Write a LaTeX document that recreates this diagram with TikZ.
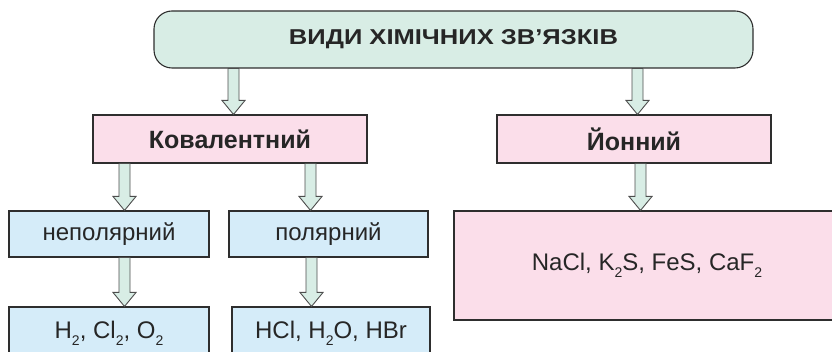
\documentclass[tikz,border=0pt]{standalone}
\usepackage{fontspec}
\setmainfont{Liberation Sans}
\usetikzlibrary{calc}
\definecolor{mint}{HTML}{D8EDE5}
\definecolor{pinkbox}{HTML}{FBDEEA}
\definecolor{bluebox}{HTML}{D5ECF9}
\definecolor{edge}{HTML}{2E2E2E}
\newcommand\lowsub[1]{\raisebox{-0.28em}{\fontsize{14}{14}\selectfont #1}}
\tikzset{
  box/.style={draw=edge, line width=1.1pt, inner sep=0pt, align=center, text=black!85},
  topbox/.style={box, fill=mint, rounded corners=18pt},
  pinkb/.style={box, fill=pinkbox},
  blueb/.style={box, fill=bluebox},
  barrow/.style={draw=edge!85, fill=mint, line width=0.9pt, line join=miter},
  bigtext/.style={font=\fontsize{24}{27}\selectfont},
  boldtext/.style={font=\fontsize{25}{28}\selectfont\bfseries},
}
\newcommand\blockarrow[3]{%
  \path[barrow] let \p1=(#2.south), \p2=(#3.north) in
    (#1-5.5,\y1) -- (#1-5.5,\y2+14) -- (#1-11.5,\y2+14) -- (#1,\y2)
    -- (#1+11.5,\y2+14) -- (#1+5.5,\y2+14) -- (#1+5.5,\y1) -- cycle;}
\begin{document}
\begin{tikzpicture}[x=1pt,y=1pt]
\useasboundingbox (0,0) rectangle (832,352);
\clip (0,0) rectangle (832,352);
\node[topbox, minimum width=599pt, minimum height=57pt] (top) at (453.5,312.5)
  {\resizebox{329pt}{15pt}{\fontsize{24}{27}\selectfont\bfseries ВИДИ ХІМІЧНИХ ЗВ’ЯЗКІВ}};
\node[pinkb, boldtext, minimum width=274pt, minimum height=48pt] (cov) at (230,213) {Ковалентний};
\node[pinkb, boldtext, minimum width=274pt, minimum height=48pt] (ion) at (634,213) {Йонний};
\node[blueb, bigtext, minimum width=200pt, minimum height=46pt] (nonpol) at (109,118) {неполярний};
\node[blueb, bigtext, minimum width=199pt, minimum height=46pt] (pol) at (328.5,118) {полярний};
\node[blueb, bigtext, minimum width=200pt, minimum height=53pt] (ex1) at (109,18.5)
  {H\lowsub{2}, Cl\lowsub{2}, O\lowsub{2}};
\node[blueb, bigtext, minimum width=198pt, minimum height=53pt] (ex2) at (331,18.5)
  {HCl, H\lowsub{2}O, HBr};
\node[pinkb, bigtext, minimum width=386pt, minimum height=109pt] (ex3) at (647,86.5)
  {NaCl, K\lowsub{2}S, FeS, CaF\lowsub{2}};
\blockarrow{233.5}{top}{cov}
\blockarrow{637.5}{top}{ion}
\blockarrow{124.5}{cov}{nonpol}
\blockarrow{310.5}{cov}{pol}
\blockarrow{640.5}{ion}{ex3}
\blockarrow{124.5}{nonpol}{ex1}
\blockarrow{311.5}{pol}{ex2}
\end{tikzpicture}
\end{document}
